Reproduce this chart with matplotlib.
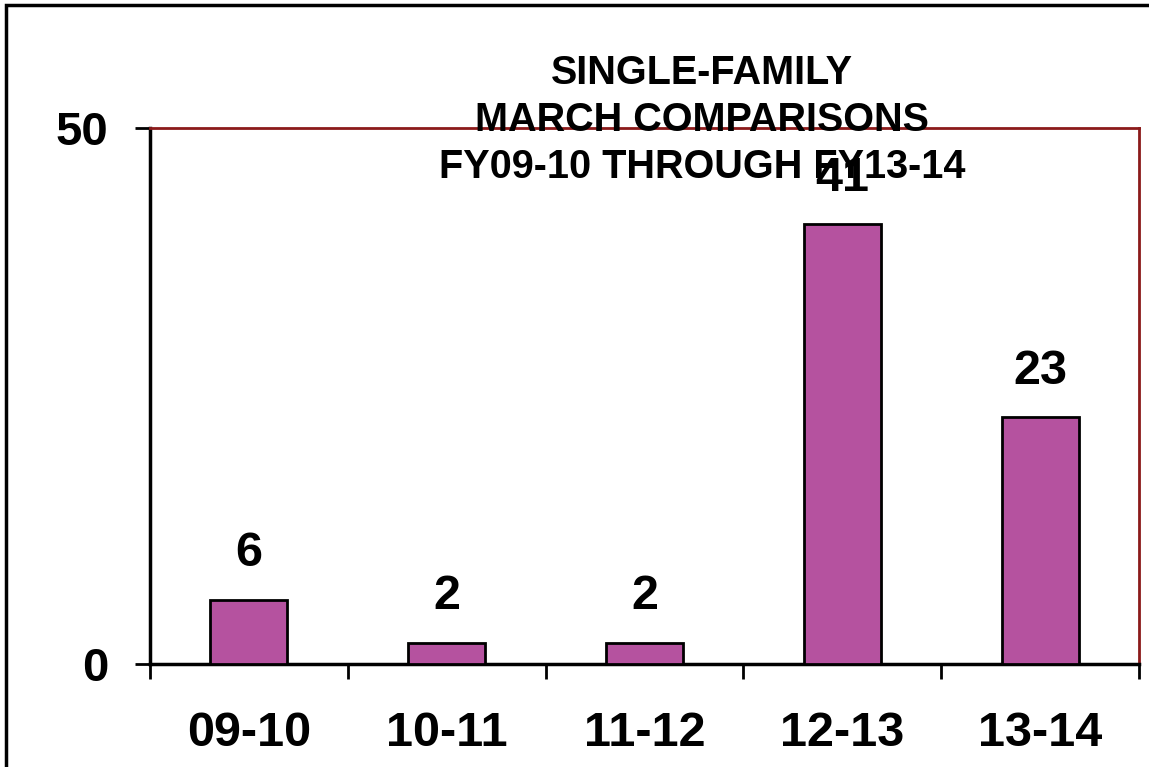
import matplotlib.pyplot as plt
from matplotlib.patches import Rectangle

# Data.
years = ['09-10', '10-11', '11-12', '12-13', '13-14']
counts = [6, 2, 2, 41, 23]
y_ticks = [0, 50]

plt.rcParams['font.family'] = ['Liberation Sans', 'DejaVu Sans']
plt.rcParams['font.weight'] = 'bold'

fig = plt.figure(figsize=(11.49, 7.67), dpi=100)
ax = fig.add_axes([150 / 1149, 1 - 664 / 767, 989 / 1149, 536 / 767])

x = list(range(len(years)))
ax.bar(x, counts, width=0.39, color='#B5529F', edgecolor='black', linewidth=2, zorder=3)

# Value labels above each bar.
for xi, c in zip(x, counts):
    ax.annotate(str(c), (xi, c), xytext=(0, 17), textcoords='offset points',
                ha='center', va='bottom', fontsize=35, fontweight='bold')

ax.set_xlim(-0.5, len(years) - 0.5)
ax.set_ylim(0, 50)
ax.set_yticks(y_ticks)
ax.set_yticklabels([str(t) for t in y_ticks])
ax.set_xticks(x)
ax.set_xticklabels(years)
ax.set_xticks([i - 0.5 for i in range(len(years) + 1)], minor=True)

ax.tick_params(axis='x', which='major', length=0, pad=34, labelsize=35)
ax.tick_params(axis='x', which='minor', length=11, width=2, direction='out')
ax.tick_params(axis='y', length=11, width=2, pad=19, labelsize=34)

for side in ['left', 'bottom']:
    ax.spines[side].set_linewidth(2.5)
    ax.spines[side].set_color('black')
for side in ['top', 'right']:
    ax.spines[side].set_linewidth(2)
    ax.spines[side].set_color('#8B1A1A')

fig.text(702 / 1149, 1 - 120 / 767,
         'SINGLE-FAMILY\nMARCH COMPARISONS\nFY09-10 THROUGH FY13-14',
         ha='center', va='center', fontsize=28.5, fontweight='bold', linespacing=1.3)

# Border around the whole chart.
fig.patches.append(Rectangle((6 / 1149, -0.05), 1.2, 1.05 - 5 / 767, transform=fig.transFigure,
                             fill=False, edgecolor='black', linewidth=2.5))

fig.savefig('out.png', dpi=100)
